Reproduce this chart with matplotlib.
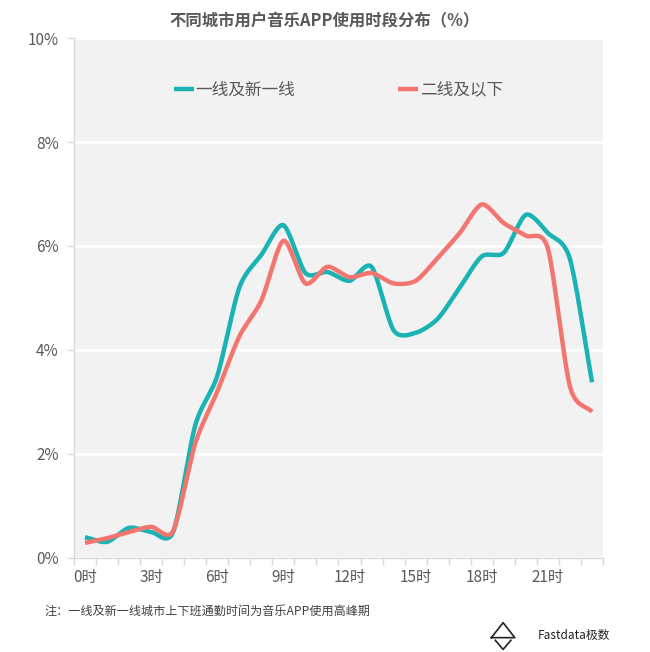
import numpy as np
import matplotlib
matplotlib.use('Agg')
import matplotlib.pyplot as plt

plt.rcParams['font.family'] = ['Noto Sans CJK SC', 'DejaVu Sans']

# hourly share of music APP usage (%)
hours = list(range(24))
tier1 = [0.40, 0.31, 0.58, 0.50, 0.50, 2.55, 3.50, 5.20, 5.83, 6.40, 5.48, 5.50,
         5.33, 5.60, 4.38, 4.33, 4.60, 5.20, 5.80, 5.87, 6.60, 6.25, 5.75, 3.38]
tier2 = [0.29, 0.38, 0.50, 0.60, 0.52, 2.20, 3.20, 4.26, 4.95, 6.10, 5.28, 5.60,
         5.40, 5.48, 5.28, 5.33, 5.77, 6.25, 6.80, 6.44, 6.20, 5.95, 3.30, 2.81]
series_names = ['一线及新一线', '二线及以下']
xtick_hours = [0, 3, 6, 9, 12, 15, 18, 21]
yticks = [0, 2, 4, 6, 8, 10]

TEAL = '#1AB2B2'
RED = '#F2756F'
GREY_TXT = '#595959'


def smooth(x, y, n=20, tension=0.8):
    # cardinal spline through the points (close to Excel's smoothed line)
    x = np.asarray(x, float)
    y = np.asarray(y, float)
    px = np.concatenate([[2 * x[0] - x[1]], x, [2 * x[-1] - x[-2]]])
    py = np.concatenate([[2 * y[0] - y[1]], y, [2 * y[-1] - y[-2]]])
    t = np.linspace(0, 1, n, endpoint=False)
    h00 = 2 * t ** 3 - 3 * t ** 2 + 1
    h10 = t ** 3 - 2 * t ** 2 + t
    h01 = -2 * t ** 3 + 3 * t ** 2
    h11 = t ** 3 - t ** 2
    xs, ys = [], []
    for i in range(1, len(px) - 2):
        for p, out in ((px, xs), (py, ys)):
            m1 = tension * 0.5 * (p[i + 1] - p[i - 1])
            m2 = tension * 0.5 * (p[i + 2] - p[i])
            out.extend(h00 * p[i] + h10 * m1 + h01 * p[i + 1] + h11 * m2)
    xs.append(x[-1])
    ys.append(y[-1])
    return np.array(xs), np.array(ys)


fig = plt.figure(figsize=(6.5, 6.52), dpi=100)
ax = fig.add_axes([0.1138, 0.1442, 0.8139, 0.7975])
ax.set_facecolor('#F2F2F2')

for name, vals, col in ((series_names[0], tier1, TEAL), (series_names[1], tier2, RED)):
    sx, sy = smooth(hours, vals)
    ax.plot(sx, sy, color=col, lw=3.2, solid_capstyle='butt', label=name, zorder=3)

ax.set_xlim(-0.5, 23.5)
ax.set_ylim(0, 10)
ax.set_yticks(yticks)
ax.set_yticklabels([f'{v}%' for v in yticks], fontsize=11, color=GREY_TXT)
ax.yaxis.grid(True, color='white', lw=2)
ax.set_axisbelow(True)

# category boundaries as tick marks, labels every 3 hours
ax.set_xticks(np.arange(-0.5, 24, 1))
ax.set_xticklabels([])
ax.set_xticks(xtick_hours, minor=True)
ax.set_xticklabels([f'{h}时' for h in xtick_hours], minor=True, fontsize=11, color=GREY_TXT)
ax.tick_params(axis='x', which='major', length=5, color='#D9D9D9', width=1)
ax.tick_params(axis='x', which='minor', length=0, pad=8)
ax.tick_params(axis='y', length=5, color='#D9D9D9', width=1, pad=6)

for s in ['top', 'right']:
    ax.spines[s].set_visible(False)
for s in ['left', 'bottom']:
    ax.spines[s].set_color('#D9D9D9')
    ax.spines[s].set_linewidth(1)

leg = ax.legend(loc='upper center', bbox_to_anchor=(0.5, 0.945), ncol=2, frameon=False,
                fontsize=12, handlelength=1.2, handletextpad=0.1, columnspacing=6.2)
for t in leg.get_texts():
    t.set_color(GREY_TXT)

fig.text(0.5, 0.968, '不同城市用户音乐APP使用时段分布（%）', ha='center', va='center',
         fontsize=11.8, fontweight='bold', color=GREY_TXT)
fig.text(0.069, 0.063, '注：一线及新一线城市上下班通勤时间为音乐APP使用高峰期',
         ha='left', va='center', fontsize=8.7, color='#404040')

# source mark
fig.text(0.938, 0.025, 'Fastdata极数', ha='right', va='center', fontsize=8.5, color='#222222')
tri_x = [0.756, 0.774, 0.792, 0.756]
tri_y = [0.022, 0.045, 0.022, 0.022]
fig.add_artist(plt.Line2D(tri_x, tri_y, color='#222222', lw=1.2, transform=fig.transFigure))
fig.add_artist(plt.Line2D([0.762, 0.774, 0.786], [0.018, 0.004, 0.018], color='#222222',
                          lw=1.2, transform=fig.transFigure))

fig.savefig('out.png', dpi=100, facecolor='white')
